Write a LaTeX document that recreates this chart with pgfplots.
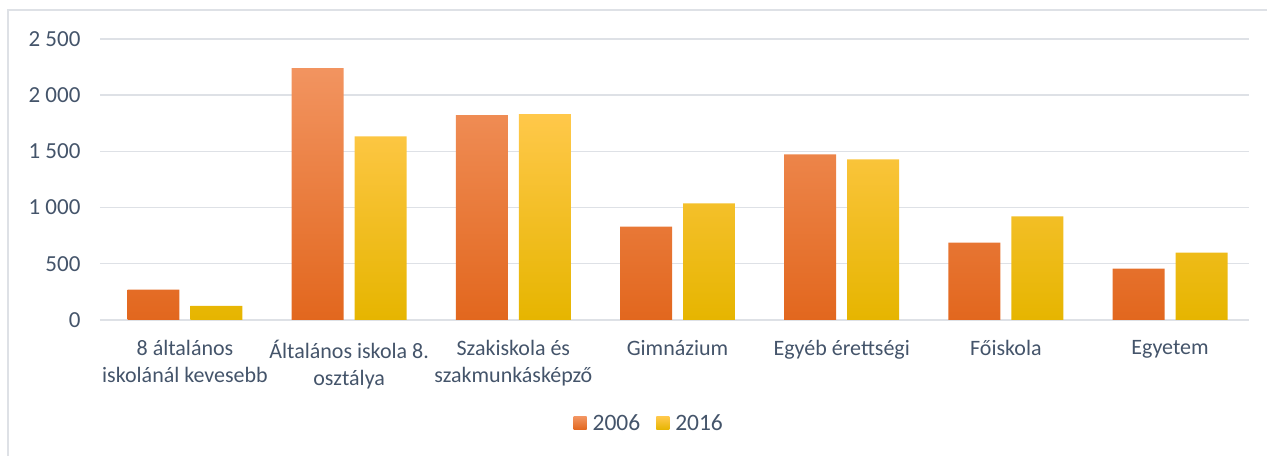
\documentclass[border=0pt]{standalone}
\usepackage{pgfplots}
\pgfplotsset{compat=1.18}
\usepackage{fontspec}
\setmainfont{Carlito}
\definecolor{txt}{RGB}{68,84,106}
\definecolor{gridc}{RGB}{222,225,230}
\definecolor{oTop}{RGB}{242,148,96}
\definecolor{oMid}{RGB}{240,123,45}
\definecolor{oBot}{RGB}{226,103,30}
\definecolor{yTop}{RGB}{255,200,74}
\definecolor{yMid}{RGB}{255,192,0}
\definecolor{yBot}{RGB}{230,181,0}
\begin{document}
\begin{tikzpicture}[x=1pt,y=1pt]
\path (0,0) rectangle (1268,456);
\draw[gridc, line width=1.5pt] (8,0) -- (8,446) -- (1268,446);
\begin{axis}[
  at={(100pt,136pt)}, anchor=south west,
  scale only axis, width=1150pt, height=281pt,
  xmin=-0.518, xmax=6.482, ymin=0, ymax=2500,
  axis line style={draw=none},
  major tick length=0pt,
  ytick={0,500,1000,1500,2000,2500},
  yticklabels={0,500,1 000,1 500,2 000,2 500},
  ymajorgrids, xmajorgrids=false, grid style={draw=gridc, line width=1.5pt},
  xtick={0,...,6},
  xticklabels={{8 általános\\iskolánál kevesebb},{Általános iskola 8.\\osztálya},{Szakiskola és\\szakmunkásképző},Gimnázium,Egyéb érettségi,Főiskola,Egyetem},
  x tick label style={align=center, font=\fontsize{22}{27}\selectfont, text=txt, yshift=-17pt},
  y tick label style={font=\fontsize{23}{27}\selectfont, text=txt, xshift=-16pt},
  ybar=11pt, bar width=52pt,
  legend style={at={(0.478,-0.37)}, anchor=center, draw=none, legend columns=2,
    font=\fontsize{23.5}{27}\selectfont, text=txt,
    /tikz/every even column/.append style={column sep=14pt}},
  legend image code/.code={\path[#1, draw=none] (0pt,-6pt) rectangle (13pt,7pt); \path (17pt,0pt);},
]
\addplot[draw=none, top color=oTop, middle color=oMid, bottom color=oBot] coordinates {(0,268) (1,2241) (2,1821) (3,830) (4,1473) (5,688) (6,455)};
\addplot[draw=none, top color=yTop, middle color=yMid, bottom color=yBot] coordinates {(0,125) (1,1634) (2,1830) (3,1036) (4,1429) (5,920) (6,598)};
\legend{2006,2016}
\end{axis}
\end{tikzpicture}
\end{document}
